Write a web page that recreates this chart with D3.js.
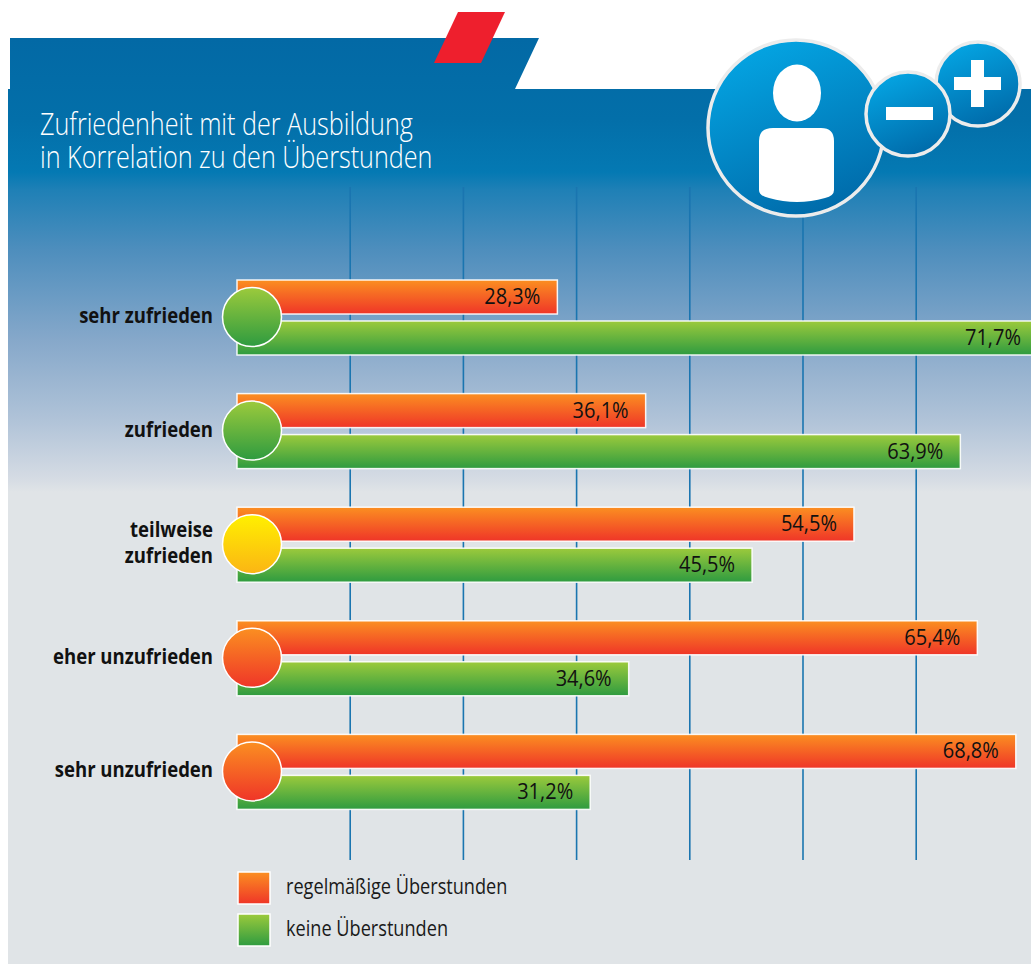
<!DOCTYPE html>
<html>
<head>
<meta charset="utf-8">
<script src="https://cdn.jsdelivr.net/npm/d3@7"></script>
<style>
  html, body { margin: 0; padding: 0; background: #fff; }
  svg { display: block; }
  text { font-family: "Open Sans", sans-serif; }
</style>
</head>
<body>
<div id="chart"></div>
<script>
const categories = ["sehr zufrieden", "zufrieden", "teilweise zufrieden", "eher unzufrieden", "sehr unzufrieden"];
const categoryLines = [["sehr zufrieden"], ["zufrieden"], ["teilweise", "zufrieden"], ["eher unzufrieden"], ["sehr unzufrieden"]];
const seriesNames = ["regelmäßige Überstunden", "keine Überstunden"];
const regelmaessig = [28.3, 36.1, 54.5, 65.4, 68.8];
const keine = [71.7, 63.9, 45.5, 34.6, 31.2];
const moods = ["green", "green", "yellow", "orange", "orange"];
const gridTicks = [10, 20, 30, 40, 50, 60];
const titleLines = ["Zufriedenheit mit der Ausbildung", "in Korrelation zu den Überstunden"];

const width = 1031, height = 964;

const svg = d3.select("#chart").append("svg")
    .attr("width", width)
    .attr("height", height)
    .attr("viewBox", `0 0 ${width} ${height}`);

const defs = svg.append("defs");

function vGradient(id, stops) {
    const g = defs.append("linearGradient").attr("id", id)
        .attr("x1", 0).attr("y1", 0).attr("x2", 0).attr("y2", 1);
    stops.forEach(s => g.append("stop").attr("offset", s[0]).attr("stop-color", s[1]));
}

vGradient("orange", [[0, "#fb8f21"], [1, "#ef3528"]]);
vGradient("green", [[0, "#9cca3c"], [1, "#2e9b40"]]);
vGradient("yellow", [[0, "#fff000"], [1, "#fbb514"]]);

// panel background, blue at the top fading into light grey
const bg = defs.append("linearGradient").attr("id", "panel")
    .attr("gradientUnits", "userSpaceOnUse")
    .attr("x1", 0).attr("y1", 38).attr("x2", 0).attr("y2", 964);
[[38, "#0369a5"], [120, "#036fa9"], [172, "#0479b3"], [190, "#1f80b6"], [250, "#4e8ebd"], [340, "#86a8ca"], [420, "#b0c3d8"], [480, "#d6dce4"], [492, "#e0e4e7"], [964, "#e0e4e7"]]
    .forEach(s => bg.append("stop").attr("offset", (s[0] - 38) / 926).attr("stop-color", s[1]));

const iconGrad = defs.append("linearGradient").attr("id", "icon")
    .attr("x1", 0.3).attr("y1", 0).attr("x2", 0.7).attr("y2", 1);
iconGrad.append("stop").attr("offset", 0).attr("stop-color", "#04a5e3");
iconGrad.append("stop").attr("offset", 1).attr("stop-color", "#0069a8");

// header shapes
svg.append("path").attr("fill", "url(#panel)")
    .attr("d", "M10,38 L539,38 L515,89 L1031,89 L1031,964 L8,964 L8,89 L10,89 Z");
svg.append("path").attr("fill", "#ee1f2d")
    .attr("d", "M458,12 L505,12 L481,63 L434,63 Z");

// scales
const x = d3.scaleLinear().domain([0, 100]).range([237, 1369]);
const y = d3.scaleBand().domain(categories).range([265, 833]).paddingInner(0).paddingOuter(0);
const inner = d3.scaleBand().domain(seriesNames).range([15, 90]).paddingInner(0.17).paddingOuter(0);

// no condensed font installed, so squeeze the text horizontally
const squeeze = (tx, ty, k) => `translate(${tx},${ty}) scale(${k},1)`;

// grid lines
const gridAxis = d3.axisBottom(x).tickValues(gridTicks).tickSize(-673).tickFormat("").offset(0);
const grid = svg.append("g").attr("transform", "translate(0,860)").call(gridAxis);
grid.select(".domain").remove();
grid.selectAll("line").attr("stroke", "#1a75b0").attr("stroke-width", 1.6);

// bars
const rows = svg.selectAll(".row")
    .data(categories)
    .join("g")
    .attr("class", "row")
    .attr("transform", d => `translate(0,${y(d)})`);

const pct = v => v.toFixed(1).replace(".", ",") + "%";

[regelmaessig, keine].forEach((values, s) => {
    rows.append("rect")
        .attr("x", x(0))
        .attr("y", inner(seriesNames[s]))
        .attr("width", (d, i) => x(values[i]) - x(0))
        .attr("height", inner.bandwidth())
        .attr("fill", s === 0 ? "url(#orange)" : "url(#green)")
        .attr("stroke", "#fff")
        .attr("stroke-opacity", 0.9)
        .attr("stroke-width", 1.5);
    // the longest bar runs off the page, its label stays inside
    rows.append("text")
        .attr("transform", (d, i) => squeeze(Math.min(x(values[i]) - 17, 1021), inner(seriesNames[s]) + inner.bandwidth() / 2 + 7, 0.91))
        .attr("text-anchor", "end")
        .attr("font-size", 22)
        .attr("fill", "#111")
        .text((d, i) => pct(values[i]));
});

// mood circles
rows.append("circle")
    .attr("cx", 252)
    .attr("cy", 52)
    .attr("r", 29.5)
    .attr("fill", (d, i) => `url(#${moods[i]})`)
    .attr("stroke", "#fff")
    .attr("stroke-width", 1.5);

// category labels
rows.each(function (d, i) {
    const lines = categoryLines[i];
    d3.select(this).selectAll(".cat")
        .data(lines)
        .join("text")
        .attr("class", "cat")
        .attr("transform", (l, k) => squeeze(213, 58 + (k - (lines.length - 1) / 2) * 26, 0.843))
        .attr("text-anchor", "end")
        .attr("font-size", 22)
        .attr("font-weight", 700)
        .attr("fill", "#111")
        .text(l => l);
});

// title
svg.selectAll(".title")
    .data(titleLines)
    .join("text")
    .attr("class", "title")
    .attr("transform", (d, i) => squeeze(40, 135 + i * 33, 0.812))
    .attr("font-size", 31)
    .attr("font-weight", 300)
    .attr("fill", "#fff")
    .text(d => d);

// legend
const legend = svg.selectAll(".legend")
    .data(seriesNames)
    .join("g")
    .attr("class", "legend")
    .attr("transform", (d, i) => `translate(238,${872 + i * 42})`);
legend.append("rect")
    .attr("width", 32)
    .attr("height", 32)
    .attr("fill", (d, i) => i === 0 ? "url(#orange)" : "url(#green)")
    .attr("stroke", "#fff")
    .attr("stroke-width", 1.5);
legend.append("text")
    .attr("transform", squeeze(48, 22, 0.825))
    .attr("font-size", 22)
    .attr("fill", "#1a1a1a")
    .text(d => d);

// icon top right
const icon = svg.append("g");
function bubble(cx, cy, r) {
    icon.append("circle").attr("cx", cx).attr("cy", cy).attr("r", r)
        .attr("fill", "url(#icon)").attr("stroke", "#ececec").attr("stroke-width", 3.5);
}
bubble(796, 128, 88);
icon.append("ellipse").attr("cx", 797).attr("cy", 93).attr("rx", 24).attr("ry", 28.5).attr("fill", "#fff");
icon.append("path").attr("fill", "#fff")
    .attr("d", "M773,128 L821,128 Q834,128 834,141 L834,190 Q834,196 825,198 Q797,206 769,198 Q759,196 759,190 L759,141 Q759,128 773,128 Z");
bubble(978, 84, 42);
icon.append("rect").attr("x", 954).attr("y", 77).attr("width", 47).attr("height", 13).attr("fill", "#fff");
icon.append("rect").attr("x", 971).attr("y", 60).attr("width", 13).attr("height", 47).attr("fill", "#fff");
bubble(908, 114, 42);
icon.append("rect").attr("x", 886).attr("y", 107).attr("width", 47).attr("height", 13).attr("fill", "#fff");
</script>
</body>
</html>
